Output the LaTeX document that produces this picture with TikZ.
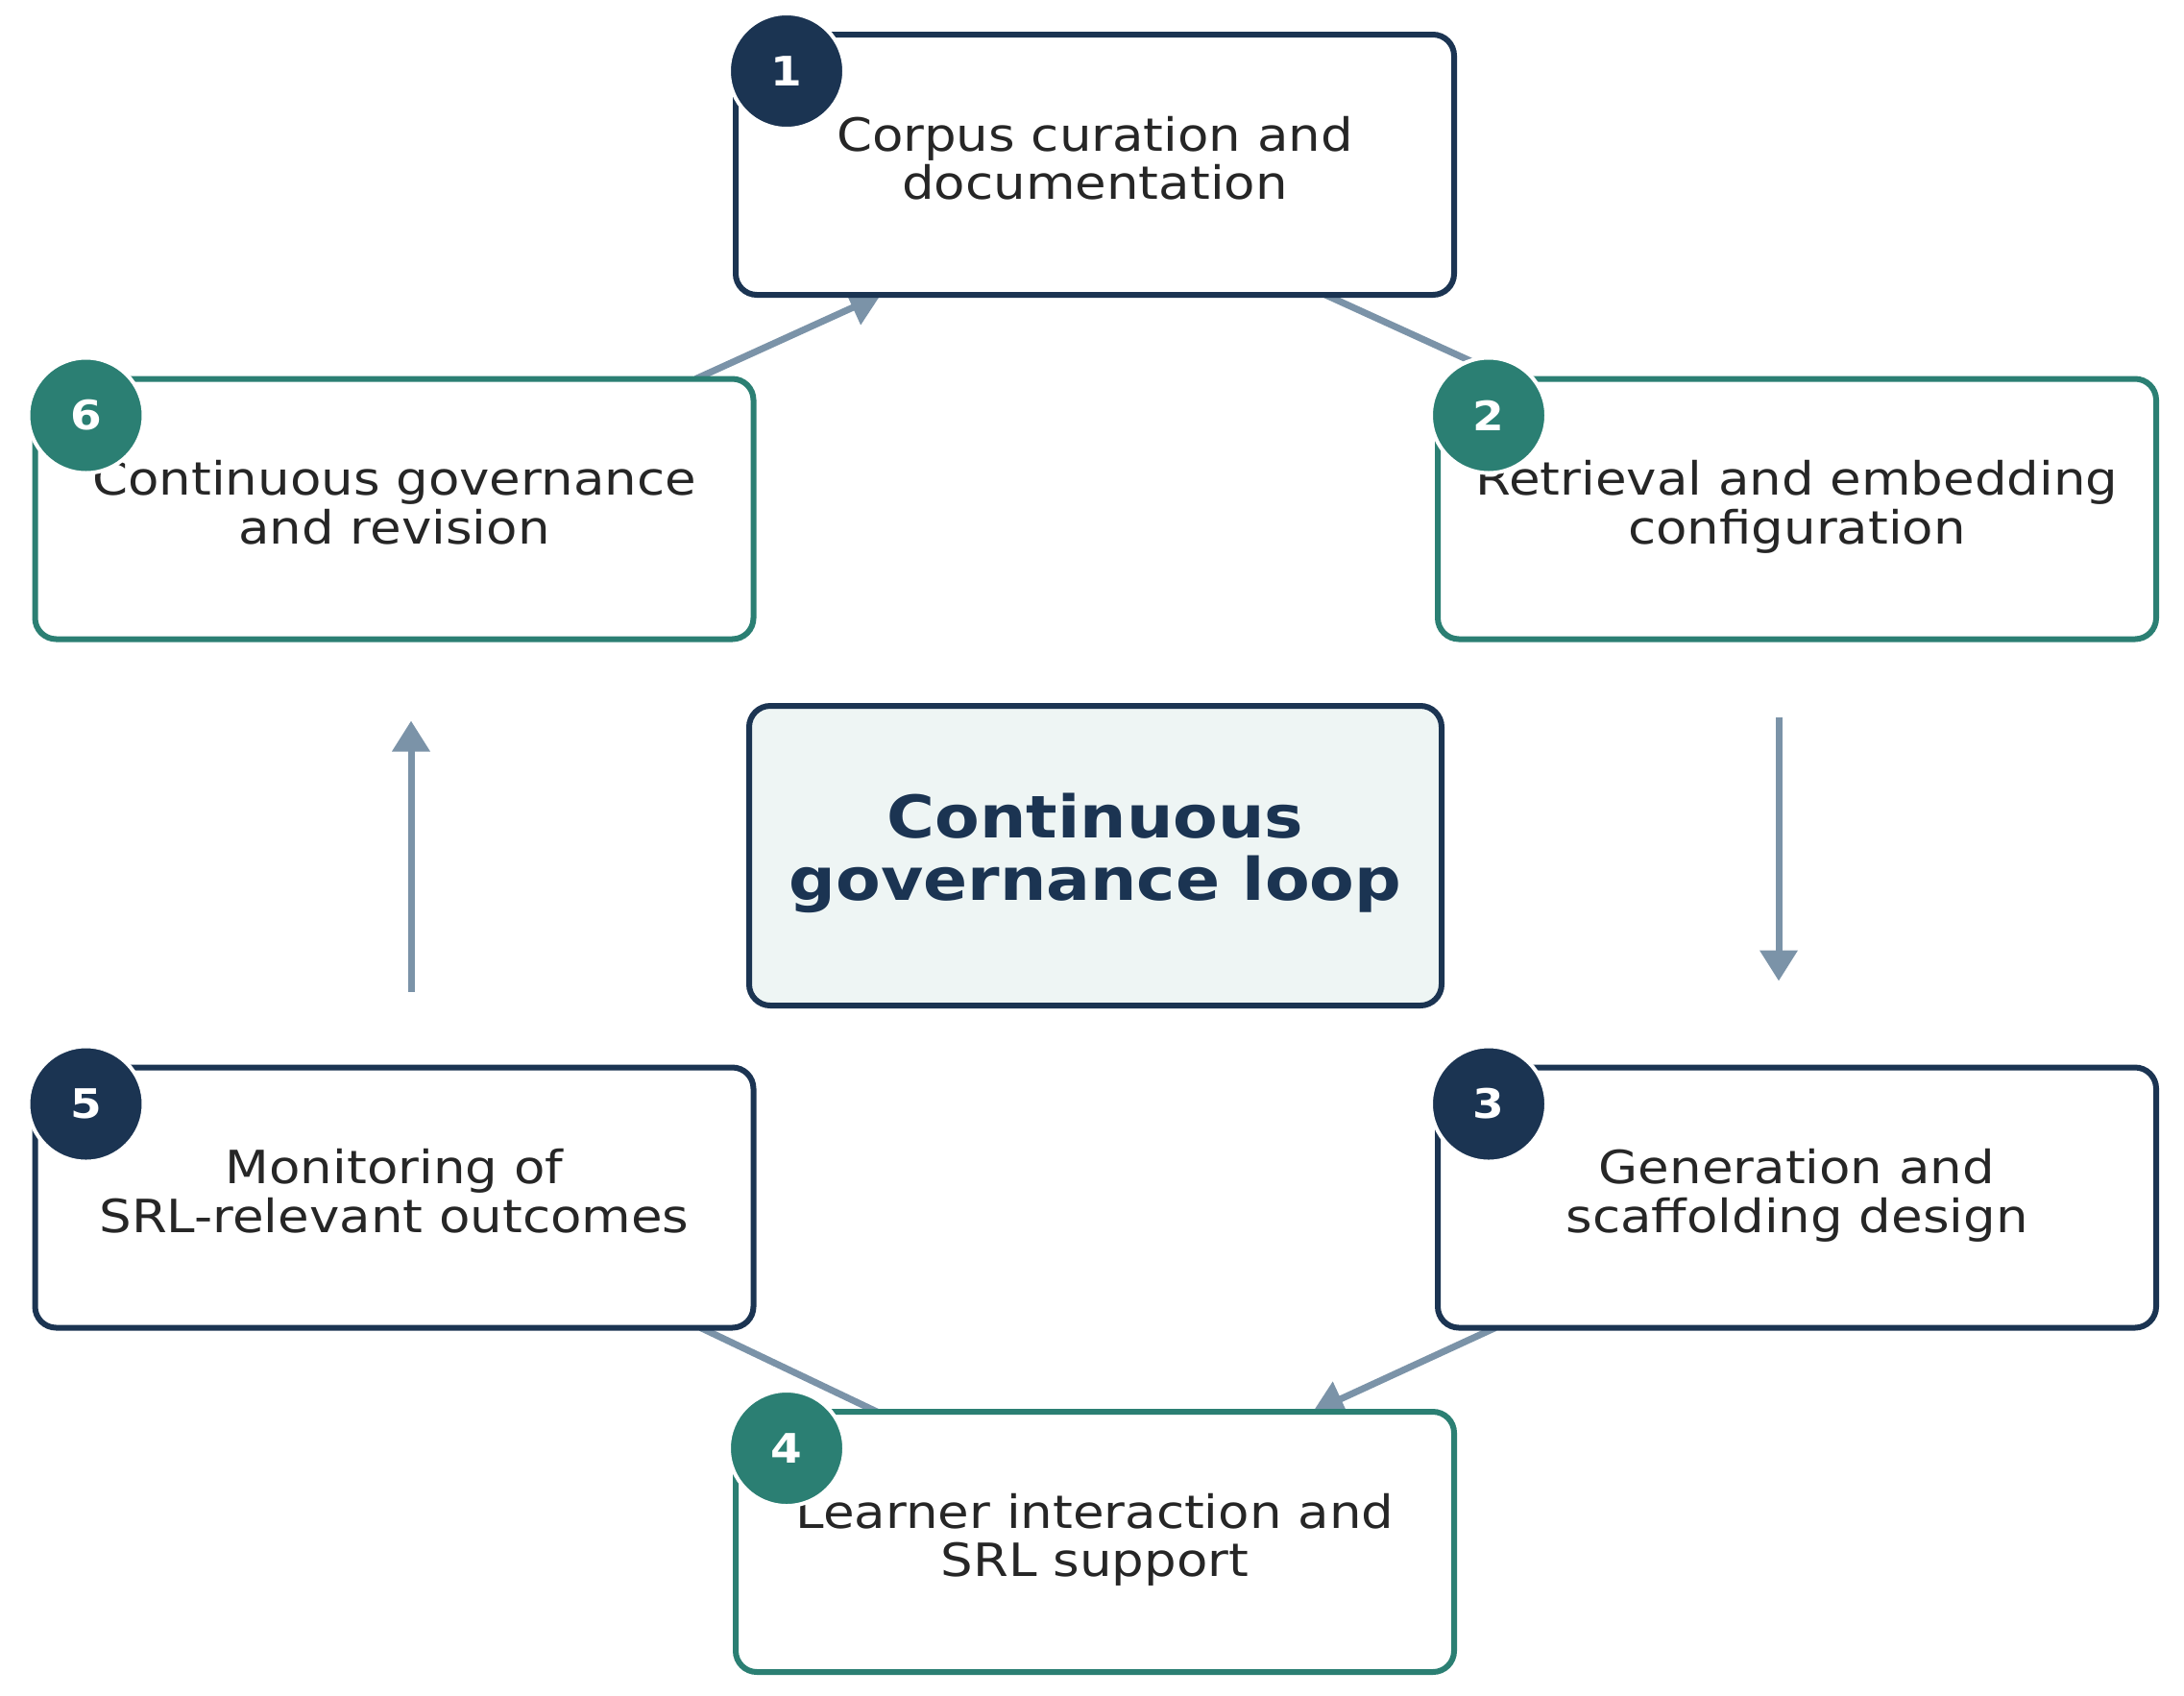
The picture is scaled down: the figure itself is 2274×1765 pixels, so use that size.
\documentclass[tikz,border=0pt]{standalone}
\usepackage{fontspec}
\setmainfont{DejaVu Sans}
\usepackage{graphicx}
\usetikzlibrary{arrows.meta,backgrounds}
\definecolor{cnavy}{HTML}{1B3452}
\definecolor{cteal}{HTML}{2B7F73}
\definecolor{carrow}{HTML}{7B93A8}
\definecolor{cfill}{HTML}{EEF5F4}
\definecolor{ctext}{HTML}{262626}
\newcommand{\bxt}[1]{\scalebox{1}[0.9]{\begin{tabular}{@{}c@{}}#1\end{tabular}}}
\begin{document}
\begin{tikzpicture}[x=1pt,y=-1pt,
  box/.style={draw, rounded corners=22pt, line width=6pt, fill=white,
    minimum width=748pt, minimum height=271pt, inner sep=0pt, outer sep=0pt,
    text=ctext, font=\fontsize{53}{53.5}\selectfont},
  nbox/.style={box, draw=cnavy},
  tbox/.style={box, draw=cteal},
  badge/.style={circle, draw=white, line width=4pt, minimum size=120pt,
    inner sep=0pt, text=white, font=\fontsize{47}{47}\bfseries\selectfont},
  conn/.style={draw=carrow, line width=7pt},
  arr/.style={conn, -{Triangle[length=32pt,width=38pt]}}]
\useasboundingbox (0,0) rectangle (2274,1765);
% boxes
\node[nbox] (b1) at (1140,171.5) {\bxt{Corpus curation and\\documentation}};
\node[tbox] (b2) at (1871,530) {\bxt{Retrieval and embedding\\configuration}};
\node[nbox] (b3) at (1871,1247) {\bxt{Generation and\\scaffolding design}};
\node[tbox] (b4) at (1140,1605.5) {\bxt{Learner interaction and\\SRL support}};
\node[nbox] (b5) at (410.5,1247) {\bxt{Monitoring of\\SRL-relevant outcomes}};
\node[tbox] (b6) at (410.5,530) {\bxt{Continuous governance\\and revision}};
\node[box, draw=cnavy, fill=cfill, minimum width=721pt, minimum height=312pt,
  text=cnavy, font=\fontsize{68}{68}\bfseries\selectfont] (c) at (1140.5,891)
  {\bxt{Continuous\\governance loop}};
% badges
\node[badge, fill=cnavy] (n1) at ([xshift=53pt,yshift=-38pt]b1.north west) {\scalebox{1}[0.9]{1}};
\node[badge, fill=cteal] (n2) at ([xshift=53pt,yshift=-38pt]b2.north west) {\scalebox{1}[0.9]{2}};
\node[badge, fill=cnavy] (n3) at ([xshift=53pt,yshift=-38pt]b3.north west) {\scalebox{1}[0.9]{3}};
\node[badge, fill=cteal] (n4) at ([xshift=53pt,yshift=-38pt]b4.north west) {\scalebox{1}[0.9]{4}};
\node[badge, fill=cnavy] (n5) at ([xshift=53pt,yshift=-38pt]b5.north west) {\scalebox{1}[0.9]{5}};
\node[badge, fill=cteal] (n6) at ([xshift=53pt,yshift=-38pt]b6.north west) {\scalebox{1}[0.9]{6}};
% connectors
\begin{scope}[on background layer]
\fill[white] (0,0) rectangle (2274,1765);
\draw[conn] ([xshift=-134pt]b1.south east) -- ([xshift=75pt]b2.north west);
\draw[arr, shorten <=81pt, shorten >=90pt] ([xshift=-19pt]b2.south) -- ([xshift=-19pt]b3.north);
\draw[arr] ([xshift=60pt]b3.south west) -- ([xshift=-147pt]b4.north east);
\draw[conn] ([xshift=-55pt]b5.south east) -- ([xshift=147pt]b4.north west);
\draw[arr, shorten <=79pt, shorten >=85pt] ([xshift=17.5pt]b5.north) -- ([xshift=17.5pt]b6.south);
\draw[arr] ([xshift=-60pt]b6.north east) -- ([xshift=151pt]b1.south west);
\end{scope}
\end{tikzpicture}
\end{document}
